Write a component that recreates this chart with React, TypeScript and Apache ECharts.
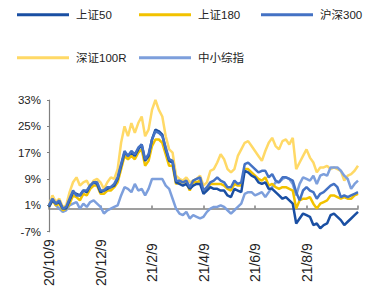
import React, { useEffect, useRef } from "react";
import * as echarts from "echarts";

const seriesNames = ["上证50", "上证180", "沪深300", "深证100R", "中小综指"];
const colors = ["#1a4fa3", "#f2c200", "#4472c4", "#ffd966", "#7d9fdc"];
const yTicks = [-7, 1, 9, 17, 25, 33];
const tickLabels = ["20/10/9", "20/12/9", "21/2/9", "21/4/9", "21/6/9", "21/8/9", "21/10/9"];
const pointsPerTick = 15;

const sz50 = [
  0.5, 2.5, 1.5, 2, 0, 0, 2.5, 5, 4.5, 4, 5.5, 5, 7, 8, 7.5,
  5, 5.5, 6, 6.5, 7, 9, 13, 17, 16, 17, 16, 18, 19.5, 14.5, 16,
  21, 24, 23.5, 22.5, 18, 14.5, 14, 8, 7.5, 7, 7.5, 6, 7, 7.5, 7.5,
  4.5, 5.5, 6.5, 6, 6, 5.5, 5.5, 4, 3.5, 6, 5.5, 5, 11.5, 11, 10,
  9.5, 8, 7.5, 8, 6, 6, 5, 4, 3, 3.5, 2.5, 1.5, -4.5, -3, -1.5,
  -2, -2.5, -5, -4.5, -6, -5, -4.5, -2, -1.5, -2.5, -3.5, -5, -4, -3, -2,
  -1,
];
const sz180 = [
  0.5, 2.5, 1, 1.5, -0.5, 0, 1.5, 4, 3.5, 2.5, 4.5, 4, 6, 7, 7,
  4.5, 4.5, 5.5, 5.5, 6.5, 8, 12, 16, 15, 16, 15, 17, 18, 13, 14.5,
  19, 21, 21, 20, 16.5, 13, 13, 7.5, 8, 8, 8, 5.5, 8, 8, 8.5,
  5, 6, 7.5, 7.5, 7.5, 7.5, 7, 6, 5.5, 7.5, 7, 7, 12, 12, 11,
  10, 9, 8.5, 9.5, 7, 7.5, 6.5, 6, 6.5, 6.5, 6, 5.5, 0, 2.5, 3,
  3, 3.5, 1.5, 0, 1.5, 2, 2.5, 4, 4, 3.5, 3, 3.5, 3, 3, 4,
  4.5,
];
const hs300 = [
  1, 3, 1.5, 2.5, 0, 0.5, 3, 5.5, 4, 4, 5.5, 5.5, 7, 8, 8,
  5.5, 5.5, 6.5, 6.5, 7.5, 9.5, 13.5, 17.5, 16, 17.5, 16.5, 18.5, 19.5, 15, 16.5,
  21, 23.5, 23, 22, 18.5, 15, 14.5, 8.5, 8.5, 8, 8.5, 6.5, 8.5, 9, 9.5,
  5.5, 6.5, 8, 8.5, 9.5, 8.5, 8, 6.5, 6.5, 8.5, 7.5, 8, 13.5, 14, 13,
  12, 11, 11.5, 11.5, 9.5, 10.5, 8.5, 8, 9.5, 9.5, 9, 8.5, 5, 2.5, 5.5,
  6.5, 5.5, 5, 3, 4.5, 5, 6, 7, 7.5, 6.5, 3.5, 4, 3.5, 4, 4.5,
  5,
];
const sz100r = [
  1, 4, 2, 3, 0.5, 1, 5, 8, 9.5, 7, 8, 8.5, 6.5, 8.5, 9,
  8, 6, 8, 9.5, 9, 12, 20, 25, 22, 26, 23, 26, 28, 22, 24,
  30, 33, 30, 28, 22, 18, 17, 10, 9, 8.5, 9.5, 8, 8.5, 9, 10,
  7, 8, 11.5, 12, 14, 16.5, 15, 12, 11, 12, 16, 18, 20, 20.5, 19,
  17.5, 16, 14.5, 17.5, 20, 21.5, 19, 18, 20.5, 21, 19.5, 21.5, 12, 14, 16,
  18, 15.5, 14, 11, 12.5, 12.5, 13, 12, 12.5, 12, 11.5, 8.5, 10, 10.5, 11.5,
  13,
];
const zxzz = [
  1, 3, 1, 0, -1, -0.5, 1, 1.5, 2, 0, 1.5, 0.5, 2, 2.5, 1.5,
  0.5, -1.5, -0.5, 0, 0.5, 1, 4, 6.5, 6, 5, 7.5, 5.5, 6, 4, 6,
  9, 9, 9, 9, 7, 6, 3, 0, -1.5, -2, -1, -3, -2, -2.5, -3,
  -2.5, -1, 0, 0.5, 0.5, 1, 0.5, -0.5, -1.5, -0.5, 0.5, 1.5, 4.5, 5, 5,
  4, 4.5, 5, 3.5, 5, 6.5, 8, 8, 9, 9.5, 9, 7.5, 4, 7.5, 9.5,
  9, 8.5, 10, 7.5, 10, 10.5, 10, 12.5, 12.5, 12.5, 11.5, 10, 9, 6, 7.5,
  8.5,
];
const seriesData = [sz50, sz180, hs300, sz100r, zxzz];

function buildCategories(): string[] {
  const out: string[] = [];
  const base = [2020, 9, 9];
  for (let k = 0; k < tickLabels.length - 1; k++) {
    const s = new Date(base[0], base[1] + 2 * k, base[2]).getTime();
    const e = new Date(base[0], base[1] + 2 * k + 2, base[2]).getTime();
    for (let j = 0; j < pointsPerTick; j++) {
      const d = new Date(s + ((e - s) * j) / pointsPerTick);
      out.push(`${String(d.getFullYear()).slice(2)}/${d.getMonth() + 1}/${d.getDate()}`);
    }
  }
  out.push(tickLabels[tickLabels.length - 1]);
  return out;
}

const FONT = "'Liberation Sans', 'Noto Sans CJK SC', sans-serif";

export default function App() {
  const ref = useRef<HTMLDivElement>(null);
  useEffect(() => {
    if (!ref.current) return;
    const chart = echarts.init(ref.current, undefined, { renderer: "svg" });
    const categories = buildCategories();
    const legendPos = [
      [17, 9],
      [139, 9],
      [261, 9],
      [17, 52],
      [139, 52],
    ];
    const drawOrder = [3, 4, 1, 0, 2];
    chart.setOption({
      animation: false,
      legend: seriesNames.map((n, i) => ({
        data: [{ name: n, icon: "rect" }],
        left: legendPos[i][0],
        top: legendPos[i][1],
        itemWidth: 52,
        itemHeight: 3,
        padding: 0,
        textStyle: { fontSize: 11.5, color: "#222", fontFamily: FONT, padding: [0, 0, 0, 2] },
      })),
      grid: { left: 49, right: 16, top: 100, bottom: 29, containLabel: false },
      xAxis: {
        type: "category",
        data: categories,
        boundaryGap: false,
        axisLine: { onZero: true, lineStyle: { color: "#808080", width: 1.5 } },
        axisTick: {
          show: true,
          inside: true,
          length: 3,
          interval: (i: number) => i % pointsPerTick === 0,
          lineStyle: { color: "#808080", width: 1.5 },
        },
        axisLabel: {
          interval: (i: number) => i % pointsPerTick === 0 && i < categories.length - 1,
          rotate: 90,
          align: "center",
          verticalAlign: "middle",
          margin: 31,
          fontSize: 14,
          color: "#222",
          fontFamily: FONT,
        },
        splitLine: { show: false },
      },
      yAxis: {
        type: "value",
        min: yTicks[0],
        max: yTicks[yTicks.length - 1],
        interval: yTicks[1] - yTicks[0],
        axisLine: { show: true, onZero: false, lineStyle: { color: "#808080", width: 1.2 } },
        axisTick: { show: true, length: 2, lineStyle: { color: "#808080" } },
        axisLabel: {
          formatter: (v: number) => `${v}%`,
          fontSize: 11.5,
          color: "#222",
          fontFamily: FONT,
          margin: 8,
        },
        splitLine: { show: false },
      },
      series: drawOrder.map((i) => ({
        name: seriesNames[i],
        type: "line",
        data: seriesData[i],
        showSymbol: false,
        symbol: "none",
        lineStyle: { color: colors[i], width: 2.5 },
        itemStyle: { color: colors[i] },
      })),
    });
    return () => chart.dispose();
  }, []);
  return <div ref={ref} style={{ width: 374, height: 289, position: "absolute", left: 0, top: 0 }} />;
}
